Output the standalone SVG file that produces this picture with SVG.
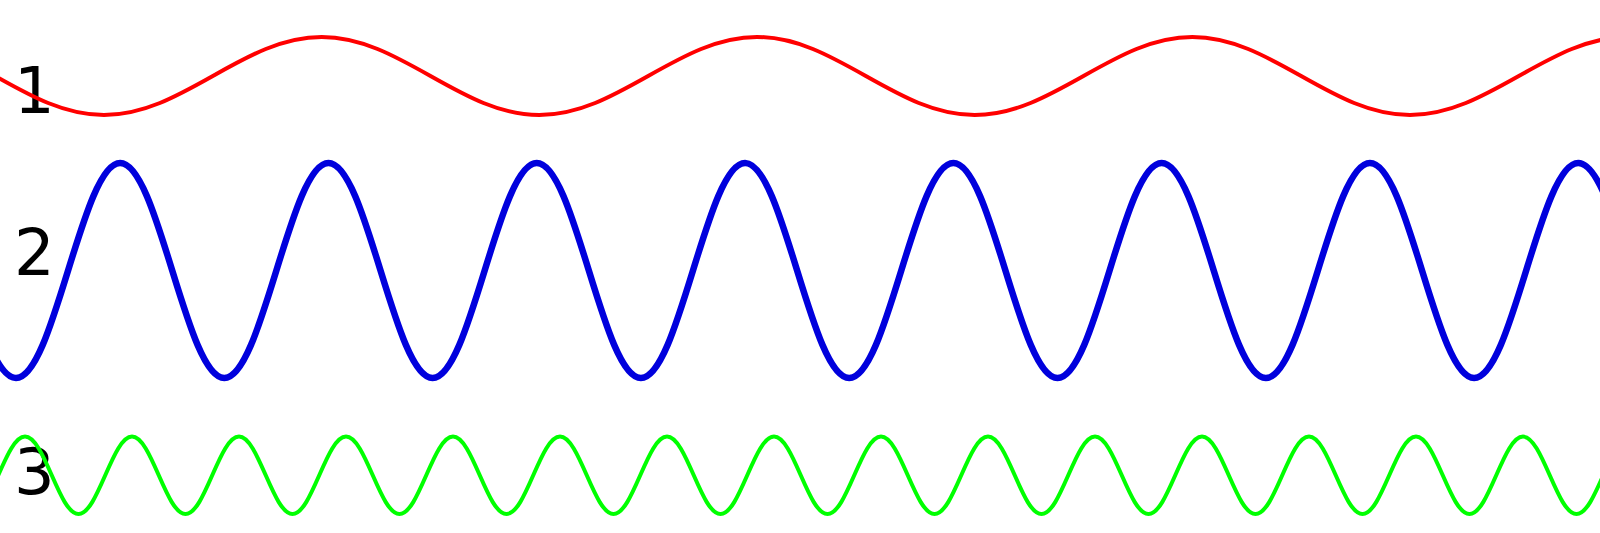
<svg xmlns="http://www.w3.org/2000/svg" width="1600" height="533" viewBox="0 0 1600 533">
<style>
.lbl{font-family:"DejaVu Sans",sans-serif;font-size:64px;fill:#000}
.w{fill:none;stroke-linecap:round;stroke-linejoin:round}
</style>
<rect width="1600" height="533" fill="#fff"/>
<g id="labels">
<text class="lbl" x="14" y="113">1</text>
<text class="lbl" x="14" y="275">2</text>
<text class="lbl" x="14" y="494">3</text>
</g>
<g id="waves">
<path id="wave1" class="w" stroke="#ff0000" stroke-width="4" d="M-113.65,37 c39.39,0 73.33,19.02 108.83,39 s69.44,39 108.83,39 s73.33,-19.02 108.83,-39 s69.44,-39 108.83,-39 s73.33,19.02 108.83,39 s69.44,39 108.83,39 s73.33,-19.02 108.83,-39 s69.44,-39 108.83,-39 s73.33,19.02 108.83,39 s69.44,39 108.83,39 s73.33,-19.02 108.83,-39 s69.44,-39 108.83,-39 s73.33,19.02 108.83,39 s69.44,39 108.83,39 s73.33,-19.02 108.83,-39 s69.44,-39 108.83,-39"/>
<path id="wave2" class="w" stroke="#0000dd" stroke-width="6.5" d="M-88.15,163 c18.85,0 35.09,52.43 52.075,107.5 s33.23,107.5 52.075,107.5 s35.09,-52.43 52.075,-107.5 s33.23,-107.5 52.075,-107.5 s35.09,52.43 52.075,107.5 s33.23,107.5 52.075,107.5 s35.09,-52.43 52.075,-107.5 s33.23,-107.5 52.075,-107.5 s35.09,52.43 52.075,107.5 s33.23,107.5 52.075,107.5 s35.09,-52.43 52.075,-107.5 s33.23,-107.5 52.075,-107.5 s35.09,52.43 52.075,107.5 s33.23,107.5 52.075,107.5 s35.09,-52.43 52.075,-107.5 s33.23,-107.5 52.075,-107.5 s35.09,52.43 52.075,107.5 s33.23,107.5 52.075,107.5 s35.09,-52.43 52.075,-107.5 s33.23,-107.5 52.075,-107.5 s35.09,52.43 52.075,107.5 s33.23,107.5 52.075,107.5 s35.09,-52.43 52.075,-107.5 s33.23,-107.5 52.075,-107.5 s35.09,52.43 52.075,107.5 s33.23,107.5 52.075,107.5 s35.09,-52.43 52.075,-107.5 s33.23,-107.5 52.075,-107.5 s35.09,52.43 52.075,107.5 s33.23,107.5 52.075,107.5 s35.09,-52.43 52.075,-107.5 s33.23,-107.5 52.075,-107.5 s35.09,52.43 52.075,107.5"/>
<path id="wave3" class="w" stroke="#00ff00" stroke-width="4" d="M-28.5,514 c9.68,0 18.03,-18.87 26.75,-38.7
 s17.07,-38.7 26.75,-38.7 s18.03,18.87 26.75,38.7 s17.07,38.7 26.75,38.7 s18.03,-18.87 26.75,-38.7
 s17.07,-38.7 26.75,-38.7 s18.03,18.87 26.75,38.7 s17.07,38.7 26.75,38.7 s18.03,-18.87 26.75,-38.7
 s17.07,-38.7 26.75,-38.7 s18.03,18.87 26.75,38.7 s17.07,38.7 26.75,38.7 s18.03,-18.87 26.75,-38.7
 s17.07,-38.7 26.75,-38.7 s18.03,18.87 26.75,38.7 s17.07,38.7 26.75,38.7 s18.03,-18.87 26.75,-38.7
 s17.07,-38.7 26.75,-38.7 s18.03,18.87 26.75,38.7 s17.07,38.7 26.75,38.7 s18.03,-18.87 26.75,-38.7
 s17.07,-38.7 26.75,-38.7 s18.03,18.87 26.75,38.7 s17.07,38.7 26.75,38.7 s18.03,-18.87 26.75,-38.7
 s17.07,-38.7 26.75,-38.7 s18.03,18.87 26.75,38.7 s17.07,38.7 26.75,38.7 s18.03,-18.87 26.75,-38.7
 s17.07,-38.7 26.75,-38.7 s18.03,18.87 26.75,38.7 s17.07,38.7 26.75,38.7 s18.03,-18.87 26.75,-38.7
 s17.07,-38.7 26.75,-38.7 s18.03,18.87 26.75,38.7 s17.07,38.7 26.75,38.7 s18.03,-18.87 26.75,-38.7
 s17.07,-38.7 26.75,-38.7 s18.03,18.87 26.75,38.7 s17.07,38.7 26.75,38.7 s18.03,-18.87 26.75,-38.7
 s17.07,-38.7 26.75,-38.7 s18.03,18.87 26.75,38.7 s17.07,38.7 26.75,38.7 s18.03,-18.87 26.75,-38.7
 s17.07,-38.7 26.75,-38.7 s18.03,18.87 26.75,38.7 s17.07,38.7 26.75,38.7 s18.03,-18.87 26.75,-38.7
 s17.07,-38.7 26.75,-38.7 s18.03,18.87 26.75,38.7 s17.07,38.7 26.75,38.7 s18.03,-18.87 26.75,-38.7
 s17.07,-38.7 26.75,-38.7 s18.03,18.87 26.75,38.7 s17.07,38.7 26.75,38.7 s18.03,-18.87 26.75,-38.7
 s17.07,-38.7 26.75,-38.7 s18.03,18.87 26.75,38.7 s17.07,38.7 26.75,38.7 s18.03,-18.87 26.75,-38.7
 s17.07,-38.7 26.75,-38.7 s18.03,18.87 26.75,38.7 s17.07,38.7 26.75,38.7 s18.03,-18.87 26.75,-38.7"/>
</g>
</svg>
